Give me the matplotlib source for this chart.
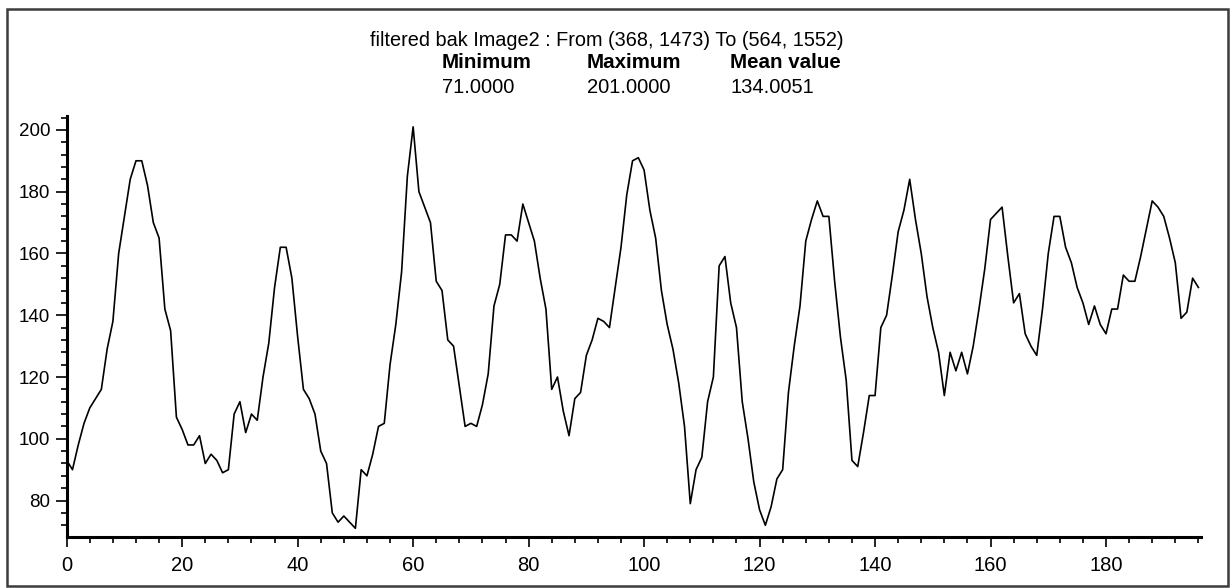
import matplotlib.pyplot as plt
from matplotlib.patches import Rectangle
from matplotlib.ticker import MultipleLocator

# intensity profile along the line, one value per pixel step
profile = [
    93, 90, 98, 105, 110, 113, 116, 129, 138, 160,
    172, 184, 190, 190, 182, 170, 165, 142, 135, 107,
    103, 98, 98, 101, 92, 95, 93, 89, 90, 108,
    112, 102, 108, 106, 120, 131, 149, 162, 162, 152,
    133, 116, 113, 108, 96, 92, 76, 73, 75, 73,
    71, 90, 88, 95, 104, 105, 124, 137, 154, 185,
    201, 180, 175, 170, 151, 148, 132, 130, 117, 104,
    105, 104, 111, 121, 143, 150, 166, 166, 164, 176,
    170, 164, 152, 142, 116, 120, 109, 101, 113, 115,
    127, 132, 139, 138, 136, 149, 162, 179, 190, 191,
    187, 174, 165, 148, 137, 129, 118, 104, 79, 90,
    94, 112, 120, 156, 159, 144, 136, 112, 100, 86,
    77, 72, 78, 87, 90, 115, 130, 143, 164, 171,
    177, 172, 172, 151, 133, 119, 93, 91, 102, 114,
    114, 136, 140, 153, 167, 174, 184, 171, 160, 146,
    136, 128, 114, 128, 122, 128, 121, 130, 142, 155,
    171, 173, 175, 159, 144, 147, 134, 130, 127, 142,
    160, 172, 172, 162, 157, 149, 144, 137, 143, 137,
    134, 142, 142, 153, 151, 151, 159, 168, 177, 175,
    172, 165, 157, 139, 141, 152, 149,
]
positions = list(range(len(profile)))

title = "filtered bak Image2 : From (368, 1473) To (564, 1552)"
stat_names = ["Minimum", "Maximum", "Mean value"]
stat_values = ["71.0000", "201.0000", "134.0051"]

font = ["Liberation Sans Narrow", "Liberation Sans", "DejaVu Sans"]
plt.rcParams["font.family"] = font

W, H = 1231, 588
fig = plt.figure(figsize=(W / 100, H / 100), dpi=100)
fig.patch.set_facecolor("white")

# window frame
fig.add_artist(Rectangle((7 / W, 2 / H), 1221 / W, 577 / H, transform=fig.transFigure,
                         fill=False, edgecolor="#3c3c3c", linewidth=1.8))

ax = fig.add_axes([66.7 / W, 51 / H, 1134 / W, 421 / H])
ax.plot(positions, profile, color="black", linewidth=1.2)
ax.set_xlim(0, 196.4)
ax.set_ylim(68.2, 204.5)

for side in ("top", "right"):
    ax.spines[side].set_visible(False)
for side in ("left", "bottom"):
    ax.spines[side].set_linewidth(2.2)

ax.xaxis.set_major_locator(MultipleLocator(20))
ax.xaxis.set_minor_locator(MultipleLocator(4))
ax.yaxis.set_major_locator(MultipleLocator(20))
ax.yaxis.set_minor_locator(MultipleLocator(4))
ax.tick_params(axis="both", which="major", direction="out", width=1.2, labelsize=13.5)
ax.tick_params(axis="x", which="major", length=7, pad=7, labelsize=14.5)
ax.tick_params(axis="y", which="major", length=8, pad=4)
ax.tick_params(axis="both", which="minor", direction="out", length=4, width=1.2)

# header with the line coordinates and statistics
fig.text(607 / W, 1 - 40 / H, title, ha="center", va="center", fontsize=14.3)
cols = [442, 587, 730]
for x, name, val in zip(cols, stat_names, stat_values):
    fig.text(x / W, 1 - 63 / H, name, ha="left", va="center", fontsize=14.8, fontweight="bold")
    fig.text(x / W, 1 - 88 / H, val, ha="left", va="center", fontsize=14.5)

fig.savefig("out.png", dpi=100)
